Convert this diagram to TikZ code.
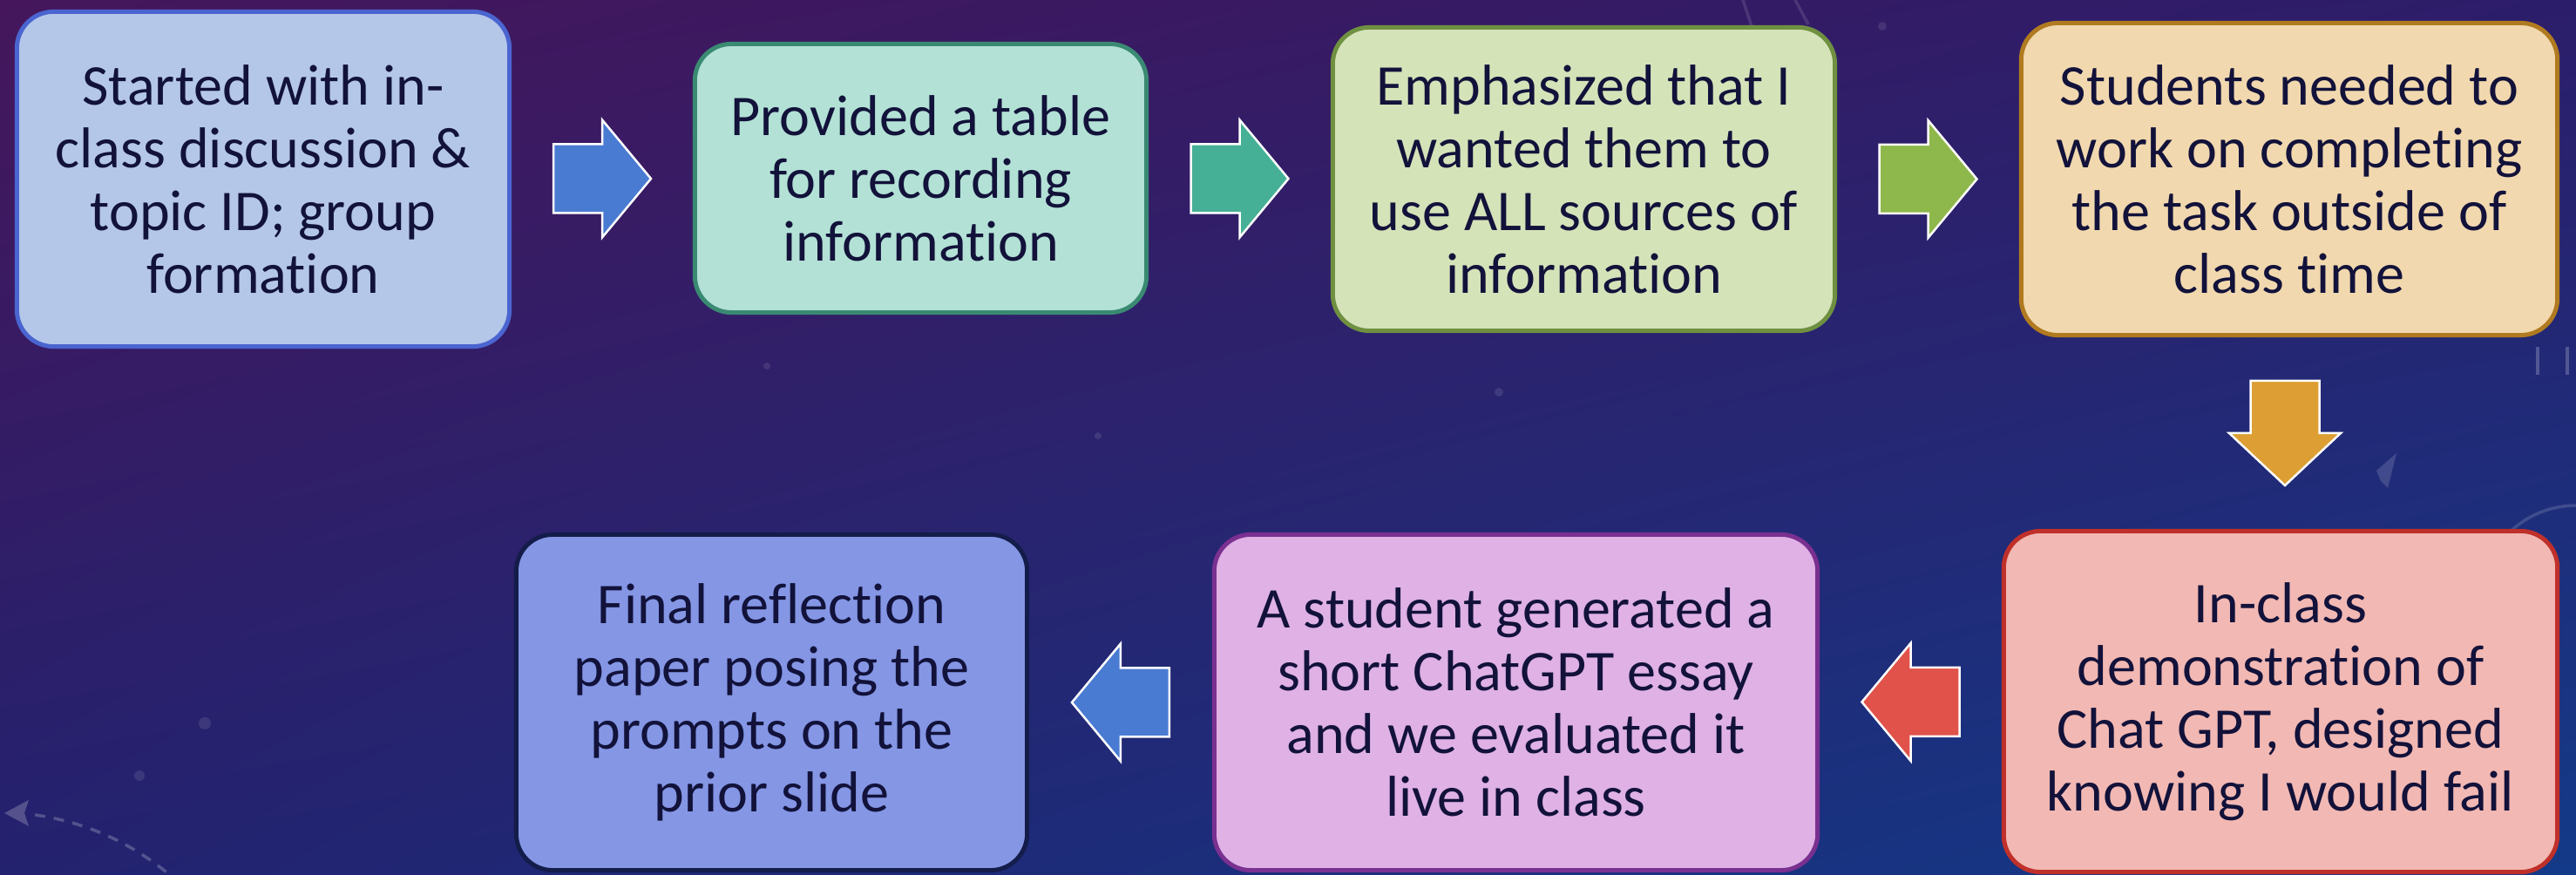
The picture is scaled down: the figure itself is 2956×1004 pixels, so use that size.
\documentclass[tikz,border=0pt]{standalone}
\usepackage{fontspec}
\setmainfont{Carlito}[Ligatures=CommonOff]
\usetikzlibrary{calc,shadings}

\definecolor{bgUL}{HTML}{45165B}
\definecolor{bgUR}{HTML}{2C1D6A}
\definecolor{bgLL}{HTML}{23226F}
\definecolor{bgLR}{HTML}{133A88}
\definecolor{ink}{HTML}{12123A}

\definecolor{fillA}{HTML}{B4C7E9}\definecolor{lineA}{HTML}{4A64D0}
\definecolor{fillB}{HTML}{B3E1D6}\definecolor{lineB}{HTML}{3A8A72}
\definecolor{fillC}{HTML}{D5E3B9}\definecolor{lineC}{HTML}{6F9040}
\definecolor{fillD}{HTML}{F1D8AE}\definecolor{lineD}{HTML}{B07A20}
\definecolor{fillE}{HTML}{F2B8B3}\definecolor{lineE}{HTML}{C0302A}
\definecolor{fillF}{HTML}{DFB1E5}\definecolor{lineF}{HTML}{7A3090}
\definecolor{fillG}{HTML}{8496E4}\definecolor{lineG}{HTML}{141C4A}

\definecolor{arrA}{HTML}{4A7BD2}
\definecolor{arrB}{HTML}{45B096}
\definecolor{arrC}{HTML}{8FB84C}
\definecolor{arrD}{HTML}{DD9E33}
\definecolor{arrE}{HTML}{E0524A}

\tikzset{
  stepbox/.style={draw, rounded corners=0.42cm, line width=0.05cm,
    align=center, text=ink, inner sep=0pt,
    font=\fontsize{18.8}{20.5}\selectfont},
  flowarrow/.style={draw=white, line width=0.025cm, line join=miter},
  % block arrow pointing right, centred on its own origin
  pics/rightarrow/.style={code={
    \path[pic actions] (-56,-39.5) -- (0,-39.5) -- (0,-67.5) -- (56,0)
      -- (0,67.5) -- (0,39.5) -- (-56,39.5) -- cycle;}},
  % block arrow pointing down (y grows downward here)
  pics/downarrow/.style={code={
    \path[pic actions] (-39.5,-60) -- (39.5,-60) -- (39.5,0) -- (64,0)
      -- (0,60) -- (-64,0) -- (-39.5,0) -- cycle;}},
  faint/.style={white, opacity=0.22, line width=0.035cm},
}

\begin{document}
\begin{tikzpicture}[x=0.01cm, y=-0.01cm]
  % background
  \shade[upper left=bgUL, upper right=bgUR, lower left=bgLL, lower right=bgLR]
    (0,0) rectangle (2956,1004);
  \useasboundingbox (0,0) rectangle (2956,1004);

  % faint sky decoration
  \fill[white, opacity=0.22] (5,933) -- (33,918) -- (28,933) -- (33,948) -- cycle;
  \draw[faint, dashed, dash pattern=on 0.12cm off 0.1cm]
    (40,935) .. controls (110,945) and (160,975) .. (195,1004);
  \fill[white, opacity=0.15] (2727,540) -- (2750,520) -- (2740,560) -- (2732,552) -- cycle;
  \draw[faint] (2912,398) -- (2912,430);
  \draw[faint] (2946,398) -- (2946,430);
  \draw[faint, opacity=0.15] (2956,580) arc[start angle=90, end angle=200, radius=1.1cm];
  \draw[faint, opacity=0.12] (2000,0) -- (2010,30);
  \draw[faint, opacity=0.12] (2060,0) -- (2075,28);
  \foreach \p/\r in {(205,22)/5, (235,160)/4, (160,890)/6, (235,830)/7, (1260,500)/4,
                     (1720,450)/5, (2400,350)/4, (1560,230)/3, (880,420)/4, (2160,30)/5}
    \fill[white, opacity=0.10] \p circle (\r);

  % steps
  \node[stepbox, fill=fillA, draw=lineA, minimum width=5.65cm, minimum height=3.84cm]
    (s1) at (302,205.5) {Started with in-\\class discussion \&\\topic ID; group\\formation};
  \node[stepbox, fill=fillB, draw=lineB, minimum width=5.18cm, minimum height=3.08cm]
    (s2) at (1056.5,204.5) {Provided a table\\for recording\\information};
  \node[stepbox, fill=fillC, draw=lineC, minimum width=5.76cm, minimum height=3.48cm]
    (s3) at (1817.5,205.5) {Emphasized that I\\wanted them to\\use ALL sources of\\information};
  \node[stepbox, fill=fillD, draw=lineD, minimum width=6.15cm, minimum height=3.58cm]
    (s4) at (2627,205.5) {Students needed to\\work on completing\\the task outside of\\class time};
  \node[stepbox, fill=fillE, draw=lineE, minimum width=6.35cm, minimum height=3.91cm]
    (s5) at (2617,805) {In-class\\demonstration of\\Chat GPT, designed\\knowing I would fail};
  \node[stepbox, fill=fillF, draw=lineF, minimum width=6.92cm, minimum height=3.85cm]
    (s6) at (1739.5,806) {A student generated a\\short ChatGPT essay\\and we evaluated it\\live in class};
  \node[stepbox, fill=fillG, draw=lineG, minimum width=5.86cm, minimum height=3.85cm]
    (s7) at (885.5,806) {Final reflection\\paper posing the\\prompts on the\\prior slide};

  % arrows between the steps
  \pic[flowarrow, fill=arrA] at ($(s1.east)!0.5!(s2.west)$) {rightarrow};
  \pic[flowarrow, fill=arrB] at ($(s2.east)!0.5!(s3.west)$) {rightarrow};
  \pic[flowarrow, fill=arrC] at ($(s3.east)!0.5!(s4.west)$) {rightarrow};
  \pic[flowarrow, fill=arrD] at ($(s4.south)!0.5!(s5.north)$) {downarrow};
  \pic[flowarrow, fill=arrE, xscale=-1] at ($(s5.west)!0.5!(s6.east)$) {rightarrow};
  \pic[flowarrow, fill=arrA, xscale=-1] at ($(s6.west)!0.5!(s7.east)$) {rightarrow};
\end{tikzpicture}
\end{document}
